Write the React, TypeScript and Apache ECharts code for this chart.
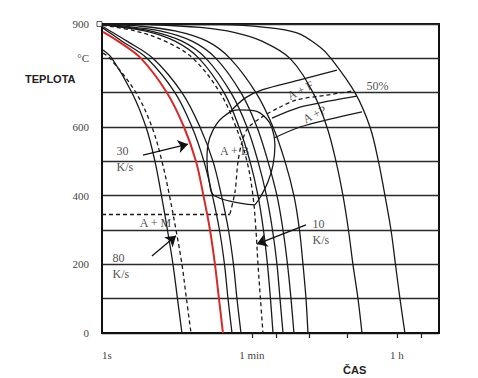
import React, { useEffect, useRef } from "react";
import * as echarts from "echarts";

// x values are log10(time in seconds); y values are temperature in °C
const xLabelValues = [0, 1.778, 3.556];
const xLabelTexts = ["1s", "1 min", "1 h"];
const xTickValues = [1.778, 2.079, 2.477, 2.954, 3.556, 3.857];
const yLabelMap: Record<number, string> = { 0: "0", 200: "200", 400: "400", 600: "600", 800: "°C", 900: "900" };

// cooling curves
const curve80 = [[-0.049, 824], [0.061, 800], [0.307, 700], [0.479, 600], [0.589, 500], [0.669, 400], [0.742, 300], [0.81, 200], [0.865, 100], [0.92, 0]];
const curve80Dashed = [[-0.049, 815], [0.037, 800], [0.356, 700], [0.552, 600], [0.675, 500], [0.767, 400], [0.847, 300], [0.92, 200], [0.975, 100], [1.031, 0]];
const curve30Red = [[-0.049, 877], [0.135, 850], [0.417, 800], [0.736, 700], [0.945, 600], [1.092, 500], [1.184, 400], [1.264, 300], [1.325, 200], [1.374, 100], [1.423, 0]];
const curveS4 = [[-0.049, 888], [0.184, 850], [0.491, 800], [0.834, 700], [1.043, 600], [1.19, 500], [1.294, 400], [1.38, 300], [1.442, 200], [1.485, 100], [1.534, 0]];
const curveS5 = [[-0.049, 892], [0.245, 850], [0.564, 800], [0.92, 700], [1.141, 600], [1.301, 500], [1.405, 400], [1.491, 300], [1.552, 200], [1.595, 100], [1.644, 0]];
const curve10Dashed = [[-0.049, 896], [0.344, 880], [0.712, 850], [1.055, 800], [1.387, 700], [1.583, 600], [1.718, 500], [1.791, 400], [1.828, 300], [1.853, 200], [1.883, 100], [1.914, 0]];
const curveS6 = [[-0.049, 898], [0.037, 895], [0.466, 880], [0.834, 850], [1.129, 800], [1.436, 700], [1.62, 600], [1.755, 500], [1.853, 400], [1.92, 300], [1.969, 200], [2.006, 100], [2.037, 0]];
const curveS7 = [[-0.049, 899], [0.098, 895], [0.528, 880], [0.92, 850], [1.215, 800], [1.521, 700], [1.718, 600], [1.853, 500], [1.957, 400], [2.031, 300], [2.086, 200], [2.123, 100], [2.16, 0]];
const curveS8 = [[-0.049, 900], [0.16, 895], [0.65, 880], [1.043, 850], [1.337, 800], [1.644, 700], [1.84, 600], [1.975, 500], [2.086, 400], [2.16, 300], [2.215, 200], [2.258, 100], [2.294, 0]];
const curveS9 = [[-0.049, 900], [0.344, 895], [0.834, 880], [1.227, 850], [1.509, 800], [1.828, 700], [2.037, 600], [2.184, 500], [2.294, 400], [2.362, 300], [2.405, 200], [2.442, 100], [2.466, 0]];
const curveR1 = [[-0.049, 900], [0.528, 898], [1.141, 890], [1.571, 875], [1.902, 850], [2.245, 800], [2.528, 700], [2.699, 600], [2.81, 500], [2.896, 400], [2.963, 300], [3.018, 200], [3.08, 100], [3.129, 0]];
const curveR2 = [[-0.049, 900], [1.387, 898], [1.914, 891], [2.331, 874], [2.613, 833], [2.748, 800], [3.043, 700], [3.227, 600], [3.331, 500], [3.411, 400], [3.485, 300], [3.54, 200], [3.595, 100], [3.656, 0]];

// transformation region boundaries
const bainiteLoop = [[1.816, 373], [1.325, 399], [1.252, 446], [1.227, 504], [1.239, 548], [1.301, 591], [1.411, 626], [1.607, 650], [1.816, 647], [1.951, 626], [2.025, 597], [2.061, 548], [2.037, 489], [1.975, 440], [1.89, 399], [1.816, 373]];
const ferriteStart = [[1.509, 644], [1.693, 684], [1.902, 708], [2.368, 737], [2.822, 766]];
const line50 = [[1.509, 347], [1.571, 411], [1.607, 498], [1.656, 556], [1.73, 597], [1.902, 629], [2.098, 655], [2.331, 679], [2.699, 693], [3.018, 705]];
const pearliteUpper = [[2.025, 626], [2.368, 658], [2.736, 676], [3.067, 690]];
const pearliteLower = [[2.049, 568], [2.368, 600], [2.736, 623], [3.129, 644]];
const msLine = [[-0.061, 345], [1.509, 345]];

const annotations = [
  { text: "30\nK/s", at: [0.123, 504], align: "left", rotate: 0 },
  { text: "80\nK/s", at: [0.074, 195], align: "left", rotate: 0 },
  { text: "10\nK/s", at: [2.528, 294], align: "left", rotate: 0 },
  { text: "A + M", at: [0.601, 320], align: "center", rotate: 0 },
  { text: "A + B", at: [1.571, 530], align: "center", rotate: 0 },
  { text: "A + F", at: [2.38, 705], align: "center", rotate: 27 },
  { text: "A +P", at: [2.552, 635], align: "center", rotate: 27 },
  { text: "50%", at: [3.325, 719], align: "center", rotate: 0 },
];
const arrows = [
  [[0.442, 518], [0.994, 550]],
  [[0.552, 224], [0.847, 283]],
  [[2.442, 315], [1.84, 259]],
];

export default function App() {
  const ref = useRef<HTMLDivElement>(null);
  useEffect(() => {
    document.body.style.margin = "0";
    const chart = echarts.init(ref.current!, undefined, { renderer: "svg" });
    const dark = "#1a1a1a";
    const serif = "Liberation Serif";
    const line = (data: number[][], opts: any = {}) => ({
      type: "line",
      data,
      showSymbol: false,
      symbol: "none",
      smooth: opts.smooth ?? 0.35,
      silent: true,
      z: opts.z ?? 3,
      lineStyle: {
        color: opts.color ?? dark,
        width: opts.width ?? 1.3,
        type: opts.dashed ? [4, 3] : "solid",
      },
    });
    const option: any = {
      animation: false,
      backgroundColor: "#fff",
      grid: {
        left: 102, top: 24, width: 337, height: 309,
        show: true, borderColor: "#111", borderWidth: 2, backgroundColor: "transparent",
      },
      xAxis: {
        type: "value",
        min: -0.061,
        max: 4.074,
        splitLine: { show: false },
        axisLine: { show: true, onZero: false, lineStyle: { color: "#111", width: 2 } },
        axisTick: { show: true, customValues: xTickValues, length: 5, lineStyle: { color: "#222", width: 1.2 } },
        axisLabel: {
          customValues: xLabelValues,
          margin: 16,
          color: "#444",
          fontSize: 11,
          fontFamily: serif,
          formatter: (v: number) => {
            const i = xLabelValues.findIndex((x) => Math.abs(x - v) < 1e-6);
            return i >= 0 ? xLabelTexts[i] : "";
          },
        },
      },
      yAxis: {
        type: "value",
        min: 0,
        max: 900,
        interval: 100,
        splitLine: { show: true, lineStyle: { color: "#2a2a2a", width: 1.4 } },
        axisLine: { show: true, onZero: false, lineStyle: { color: "#111", width: 2 } },
        axisTick: { show: false },
        axisLabel: {
          margin: 13,
          color: "#444",
          fontSize: 11,
          fontFamily: serif,
          formatter: (v: number) => yLabelMap[v] ?? "",
        },
      },
      graphic: [
        { type: "text", left: 25, top: 73, style: { text: "TEPLOTA", font: "bold 11px 'Liberation Sans'", fill: "#222" } },
        { type: "text", left: 343, top: 364, style: { text: "ČAS", font: "bold 11px 'Liberation Sans'", fill: "#222" } },
      ],
      series: [
        line(curve80),
        line(curve80Dashed, { dashed: true }),
        line(curveS4),
        line(curveS5),
        line(curve10Dashed, { dashed: true }),
        line(curveS6),
        line(curveS7),
        line(curveS8),
        line(curveS9),
        line(curveR1),
        line(curveR2),
        line(curve30Red, { color: "#d42a2a", width: 2, z: 5 }),
        line(bainiteLoop, { smooth: 0.4 }),
        line(ferriteStart, { smooth: 0.3 }),
        line(line50, { dashed: true, smooth: 0.3 }),
        line(pearliteUpper, { smooth: 0.3 }),
        line(pearliteLower, { smooth: 0.3 }),
        line(msLine, { dashed: true, smooth: false, width: 1.4 }),
        {
          type: "lines",
          coordinateSystem: "cartesian2d",
          silent: true,
          z: 6,
          symbol: ["none", "arrow"],
          symbolSize: 10,
          lineStyle: { color: "#111", width: 1.3, opacity: 1 },
          data: arrows.map((c) => ({ coords: c })),
        },
        {
          type: "scatter",
          symbolSize: 1,
          silent: true,
          z: 7,
          itemStyle: { color: "rgba(0,0,0,0)" },
          data: annotations.map((a) => ({
            value: a.at,
            label: {
              show: true,
              position: [0, 0],
              formatter: a.text,
              align: a.align,
              verticalAlign: "middle",
              rotate: a.rotate,
              color: "#1a1a1a",
              textBorderWidth: 0,
              fontSize: 12,
              lineHeight: 16,
              fontFamily: serif,
            },
          })),
        },
        {
          type: "scatter",
          symbol: "rect",
          symbolSize: 5,
          clip: false,
          silent: true,
          z: 8,
          itemStyle: { color: "#fff", borderColor: "#333", borderWidth: 1 },
          data: [[-0.092, 900]],
        },
      ],
    };
    chart.setOption(option);
    return () => chart.dispose();
  }, []);
  return <div ref={ref} style={{ width: 478, height: 378 }} />;
}
